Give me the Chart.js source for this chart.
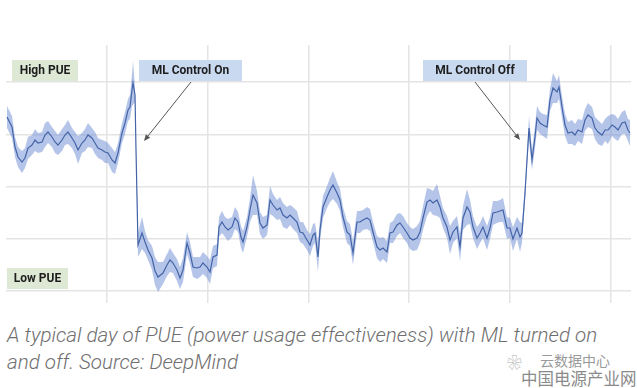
<!DOCTYPE html>
<html>
<head>
<meta charset="utf-8">
<script src="https://cdn.jsdelivr.net/npm/chart.js@4/dist/chart.umd.min.js"></script>
<style>
  body { margin: 0; background: #fff; width: 637px; height: 388px; overflow: hidden; position: relative; }
  #wrap { position: absolute; left: 0; top: 0; width: 637px; height: 310px; }
  #caption { position: absolute; left: 7px; top: 322px; font-family: Roboto, sans-serif; font-style: italic; font-weight: 300;
    font-size: 20.6px; line-height: 27px; color: #6f6f6f; white-space: nowrap; }
  .wm { position: absolute; font-family: "Noto Sans CJK SC", sans-serif; color: #9a9a9a; white-space: nowrap;
    text-shadow: 0 0 1px #fff, 0 0 1px #fff; }
</style>
</head>
<body>
<div id="wrap"><canvas id="pue-chart" width="637" height="310"></canvas></div>
<div id="caption">A typical day of PUE (power usage effectiveness) with ML turned on<br>and off. Source: DeepMind</div>
<div class="wm" style="left:507px; top:351px; font-size:15px; color:#b0b0b0;">❀</div>
<div class="wm" style="left:540px; top:350px; font-size:14px;">云数据中心</div>
<div class="wm" style="left:521px; top:366px; font-size:16.5px; color:#8a8a8a;">中国电源产业网</div>
<script>
// time steps across the day (same units as the x axis)
var steps = [
  1, 6, 9, 12, 16, 19, 22, 26, 29, 32,
  36, 39, 42, 46, 49, 52, 56, 59, 62, 66,
  69, 72, 76, 79, 82, 86, 89, 92, 96, 99,
  102, 106, 109, 112, 116, 119, 122, 124, 126, 127,
  129, 130, 132, 136, 139, 142, 146, 149, 152, 157,
  161, 164, 167, 171, 174, 177, 181, 184, 187, 191,
  194, 197, 201, 204, 207, 211, 213, 216, 219, 222,
  226, 229, 232, 235, 237, 241, 244, 247, 251, 254,
  257, 261, 264, 267, 271, 274, 277, 281, 284, 287,
  291, 294, 297, 301, 304, 307, 309, 312, 314, 317,
  321, 324, 327, 331, 334, 337, 341, 344, 347, 351,
  354, 357, 361, 364, 367, 371, 374, 377, 381, 384,
  387, 391, 394, 397, 401, 404, 407, 411, 414, 417,
  421, 424, 427, 431, 434, 437, 441, 444, 447, 451,
  454, 457, 461, 464, 467, 471, 474, 477, 481, 484,
  487, 491, 494, 497, 501, 504, 507, 511, 514, 516,
  519, 521, 523, 526, 529, 531, 534, 537, 541, 544,
  547, 551, 553, 556, 559, 562, 566, 569, 572, 576,
  579, 582, 586, 589, 592, 596, 599, 602, 606, 609,
  612, 616, 619, 622, 624
];
// relative PUE level (mean)
var pue = [
  174, 164, 144, 134, 129, 133, 143, 146, 151, 148,
  149, 156, 159, 154, 149, 146, 151, 156, 159, 153,
  148, 141, 148, 151, 156, 153, 148, 143, 141, 139,
  138, 131, 128, 138, 158, 168, 181, 184, 201, 208,
  196, 141, 46, 58, 49, 41, 33, 20, 14, 18,
  26, 31, 28, 21, 13, 21, 48, 38, 24, 23,
  24, 28, 24, 19, 34, 36, 64, 69, 64, 61,
  64, 73, 69, 54, 49, 64, 81, 96, 88, 68,
  63, 66, 91, 86, 81, 83, 76, 73, 76, 73,
  69, 59, 58, 51, 46, 56, 58, 34, 61, 84,
  94, 101, 106, 98, 91, 74, 59, 56, 38, 69,
  69, 71, 73, 71, 59, 44, 41, 43, 39, 58,
  59, 66, 68, 64, 58, 53, 51, 53, 59, 73,
  89, 91, 88, 91, 84, 73, 64, 51, 59, 64,
  44, 73, 84, 79, 64, 53, 58, 64, 53, 63,
  78, 79, 80, 81, 63, 63, 52, 63, 54, 58,
  98, 131, 163, 131, 154, 173, 168, 166, 164, 191,
  203, 199, 204, 184, 166, 158, 159, 156, 161, 159,
  171, 176, 173, 163, 159, 156, 161, 161, 166, 164,
  161, 168, 169, 161, 158
];
// half width of the uncertainty band
var spread = [
  11, 11, 10, 10, 11, 10, 11, 10, 11, 10,
  10, 12, 11, 10, 11, 10, 11, 10, 12, 10,
  11, 14, 10, 11, 12, 10, 11, 10, 10, 11,
  10, 12, 11, 10, 10, 11, 11, 12, 16, 22,
  7, 5, 12, 16, 11, 10, 12, 14, 15, 11,
  11, 12, 10, 11, 11, 12, 11, 11, 10, 11,
  10, 11, 11, 12, 11, 11, 10, 11, 10, 11,
  10, 11, 10, 11, 11, 10, 12, 20, 12, 11,
  11, 10, 14, 11, 10, 11, 12, 11, 10, 11,
  11, 10, 11, 10, 11, 11, 10, 15, 11, 11,
  11, 12, 14, 11, 11, 10, 11, 11, 12, 11,
  11, 10, 11, 11, 10, 11, 12, 11, 11, 10,
  11, 11, 10, 11, 10, 11, 11, 12, 11, 12,
  14, 11, 12, 16, 11, 10, 11, 14, 11, 11,
  14, 12, 18, 12, 11, 11, 10, 11, 12, 11,
  12, 11, 11, 12, 11, 10, 12, 11, 15, 10,
  7, 6, 12, 10, 11, 12, 11, 11, 12, 11,
  15, 11, 12, 11, 11, 11, 12, 11, 11, 12,
  11, 12, 11, 11, 12, 11, 11, 14, 11, 12,
  11, 11, 12, 11, 13
];
// grid positions
var xGrid = [100.8, 201.6, 302.4, 403.2, 504, 604.8];
var yGrid = [0, 52.25, 104.5, 156.75, 209];

var meanPts = [], upperPts = [], lowerPts = [];
for (let i = 0; i < steps.length; i++) {
  meanPts.push({ x: steps[i], y: pue[i] });
  upperPts.push({ x: steps[i], y: pue[i] + spread[i] });
  lowerPts.push({ x: steps[i], y: pue[i] - spread[i] });
}

// label boxes (top-left corner in data units) and arrows (data units)
var boxes = [
  { text: "High PUE", x: 6, y: 231, w: 66, fill: "#dde8d5" },
  { text: "ML Control On", x: 133, y: 231, w: 103, fill: "#c9d9f0" },
  { text: "ML Control Off", x: 417, y: 231, w: 104, fill: "#c9d9f0" },
  { text: "Low PUE", x: 1, y: 23, w: 61, fill: "#dde8d5" }
];
var arrows = [
  { from: [185, 209], to: [138, 150] },
  { from: [469, 209], to: [514, 151] }
];

var annotate = {
  id: "annotate",
  afterDraw: function (chart) {
    var ctx = chart.ctx, xs = chart.scales.x, ys = chart.scales.y;
    ctx.save();
    boxes.forEach(function (b) {
      var px = xs.getPixelForValue(b.x), py = ys.getPixelForValue(b.y);
      ctx.fillStyle = b.fill;
      ctx.fillRect(px, py, b.w, 21);
      ctx.fillStyle = "#1e1e1e";
      ctx.font = "bold 12px Roboto, sans-serif";
      ctx.textAlign = "center";
      ctx.textBaseline = "middle";
      ctx.fillText(b.text, px + b.w / 2, py + 11);
    });
    arrows.forEach(function (a) {
      var x1 = xs.getPixelForValue(a.from[0]), y1 = ys.getPixelForValue(a.from[1]);
      var x2 = xs.getPixelForValue(a.to[0]), y2 = ys.getPixelForValue(a.to[1]);
      var ang = Math.atan2(y2 - y1, x2 - x1);
      ctx.strokeStyle = "#555";
      ctx.fillStyle = "#555";
      ctx.lineWidth = 1;
      ctx.beginPath();
      ctx.moveTo(x1, y1);
      ctx.lineTo(x2 - 4 * Math.cos(ang), y2 - 4 * Math.sin(ang));
      ctx.stroke();
      ctx.beginPath();
      ctx.moveTo(x2, y2);
      ctx.lineTo(x2 - 7 * Math.cos(ang - 0.4), y2 - 7 * Math.sin(ang - 0.4));
      ctx.lineTo(x2 - 7 * Math.cos(ang + 0.4), y2 - 7 * Math.sin(ang + 0.4));
      ctx.closePath();
      ctx.fill();
    });
    ctx.restore();
  }
};

new Chart(document.getElementById("pue-chart"), {
  type: "line",
  data: {
    datasets: [
      { label: "PUE", data: meanPts, borderColor: "#4464a8", borderWidth: 1.2, pointRadius: 0, fill: false, tension: 0 },
      { label: "upper", data: upperPts, borderWidth: 0, pointRadius: 0, fill: "+1", backgroundColor: "rgba(120,150,215,0.55)", tension: 0 },
      { label: "lower", data: lowerPts, borderWidth: 0, pointRadius: 0, fill: false, tension: 0 }
    ]
  },
  options: {
    responsive: false,
    animation: false,
    layout: { padding: { left: 6, right: 6, top: 45, bottom: 7 } },
    plugins: { legend: { display: false }, tooltip: { enabled: false } },
    scales: {
      x: {
        type: "linear", min: 0, max: 625,
        ticks: { display: false },
        grid: { color: "#e4e4e4", lineWidth: 1.5, drawTicks: false },
        border: { display: false },
        afterBuildTicks: function (axis) { axis.ticks = xGrid.map(function (v) { return { value: v }; }); }
      },
      y: {
        min: -12, max: 246,
        ticks: { display: false },
        grid: { color: "#e4e4e4", lineWidth: 1.5, drawTicks: false },
        border: { display: false },
        afterBuildTicks: function (axis) { axis.ticks = yGrid.map(function (v) { return { value: v }; }); }
      }
    }
  },
  plugins: [annotate]
});
</script>
</body>
</html>
